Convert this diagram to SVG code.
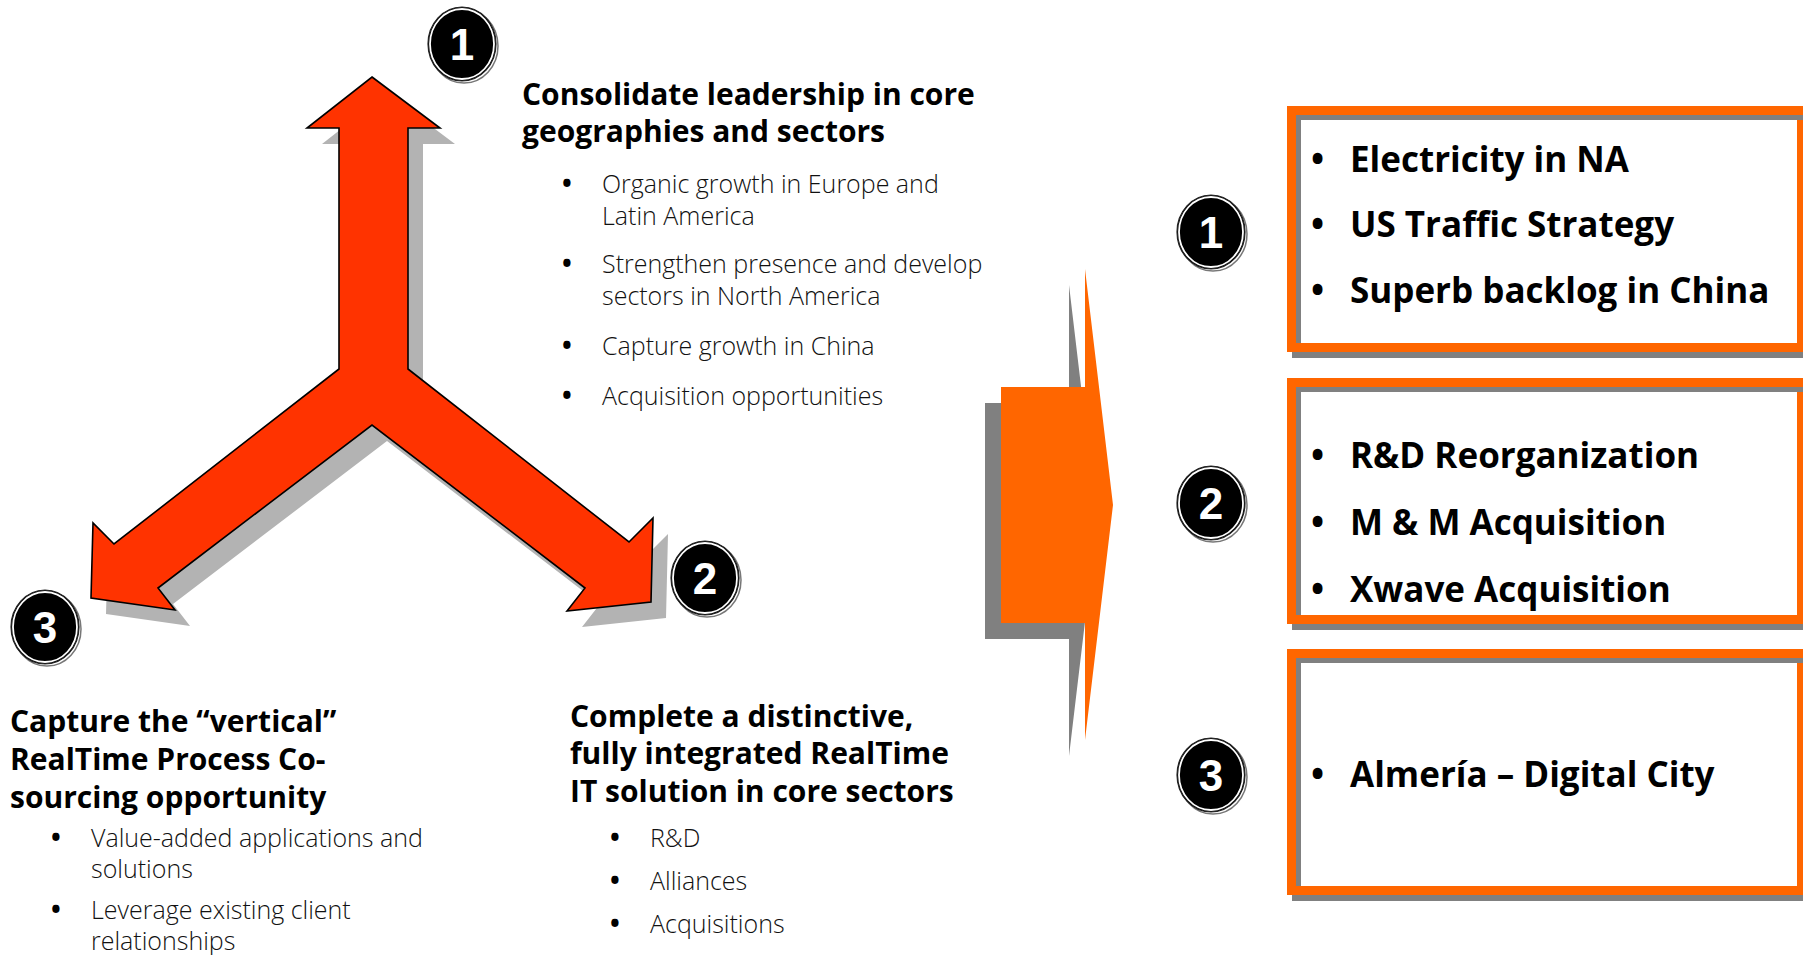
<svg xmlns="http://www.w3.org/2000/svg" width="1803" height="955" viewBox="0 0 1803 955">
<style>
.h{font-family:"Open Sans","Noto Sans",sans-serif;font-weight:700;font-size:30px;fill:#000}
.b{font-family:"Open Sans","Noto Sans",sans-serif;font-weight:300;font-size:25px;fill:#111}
.d{font-family:"Open Sans","Noto Sans",sans-serif;font-weight:700;font-size:26px;fill:#000}
.r{font-family:"Open Sans","Noto Sans",sans-serif;font-weight:700;font-size:35px;fill:#000}
.n{font-family:"Liberation Sans",Arial,sans-serif;font-weight:700;font-size:44px;fill:#fff;text-anchor:middle}
.ring{fill:#000;stroke:#222;stroke-width:1.2}
.hl{fill:none;stroke:#fff;stroke-width:1.8}
.sh{fill:none;stroke:#777;stroke-width:1.5}
.boxsh{fill:#808080}
.boxo{fill:#fff;stroke:#FF6600;stroke-width:9}
.boxi{fill:none;stroke:#808080;stroke-width:5}
</style>
<defs>
<g id="badge">
<ellipse class="sh" cx="2" cy="2" rx="34" ry="37"/>
<ellipse class="ring" cx="0" cy="0" rx="34" ry="37"/>
<ellipse class="hl" cx="0" cy="0" rx="32" ry="35"/>
</g>
</defs>
<rect width="1803" height="955" fill="#fff"/>
<g id="connectors">
<polygon id="y-arrow-shadow" fill="#B3B3B3" transform="translate(15,16)" points="372,77 440,128 408,128 408,369 629,542 653,518 651,602 567,611 585,588 372,425 158,588 175,610 91,598 93,523 114,544 339,369 339,128 307,128"/>
<polygon id="y-arrow" fill="#FF3300" stroke="#000" stroke-width="1.6" stroke-linejoin="miter" points="372,77 440,128 408,128 408,369 629,542 653,518 651,602 567,611 585,588 372,425 158,588 175,610 91,598 93,523 114,544 339,369 339,128 307,128"/>
<polygon id="big-arrow-shadow" fill="#808080" points="985,403 1069,403 1069,285 1097,521 1069,756 1069,639 985,639"/>
<polygon id="big-arrow" fill="#FF6600" points="1001,387 1085,387 1085,269 1113,505 1085,740 1085,623 1001,623"/>
</g>
<g id="badge-top-1"><use href="#badge" x="462" y="44"/><text class="n" x="462" y="60">1</text></g>
<g id="badge-left-2"><use href="#badge" x="705" y="578"/><text class="n" x="705" y="594">2</text></g>
<g id="badge-left-3"><use href="#badge" x="45" y="627"/><text class="n" x="45" y="643">3</text></g>
<g id="text-1">
<text class="h" x="522" y="105">Consolidate leadership in core</text>
<text class="h" x="522" y="142">geographies and sectors</text>
<text class="d" x="562" y="193">•</text><text class="b" x="602" y="193">Organic growth in Europe and</text>
<text class="b" x="602" y="225">Latin America</text>
<text class="d" x="562" y="273">•</text><text class="b" x="602" y="273">Strengthen presence and develop</text>
<text class="b" x="602" y="305">sectors in North America</text>
<text class="d" x="562" y="355">•</text><text class="b" x="602" y="355">Capture growth in China</text>
<text class="d" x="562" y="405">•</text><text class="b" x="602" y="405">Acquisition opportunities</text>
</g>
<g id="text-3">
<text class="h" x="10" y="732">Capture the “vertical”</text>
<text class="h" x="10" y="770">RealTime Process Co-</text>
<text class="h" x="10" y="808">sourcing opportunity</text>
<text class="d" x="51" y="847">•</text><text class="b" x="91" y="847">Value-added applications and</text>
<text class="b" x="91" y="878">solutions</text>
<text class="d" x="51" y="919">•</text><text class="b" x="91" y="919">Leverage existing client</text>
<text class="b" x="91" y="950">relationships</text>
</g>
<g id="text-2">
<text class="h" x="570" y="727">Complete a distinctive,</text>
<text class="h" x="570" y="764">fully integrated RealTime</text>
<text class="h" x="570" y="802">IT solution in core sectors</text>
<text class="d" x="610" y="847">•</text><text class="b" x="650" y="847">R&amp;D</text>
<text class="d" x="610" y="890">•</text><text class="b" x="650" y="890">Alliances</text>
<text class="d" x="610" y="933">•</text><text class="b" x="650" y="933">Acquisitions</text>
</g>
<g id="box-1">
<rect class="boxsh" x="1292" y="112" width="515" height="246"/>
<rect class="boxo" x="1291.5" y="110.5" width="510" height="237"/>
<path class="boxi" d="M1298.5 343V117.5H1803"/>
<text class="r" x="1311" y="172">•</text><text class="r" x="1350" y="172">Electricity in NA</text>
<text class="r" x="1311" y="237">•</text><text class="r" x="1350" y="237">US Traffic Strategy</text>
<text class="r" x="1311" y="303">•</text><text class="r" x="1350" y="303">Superb backlog in China</text>
</g>
<g id="box-2">
<rect class="boxsh" x="1292" y="384" width="515" height="246"/>
<rect class="boxo" x="1291.5" y="382.5" width="510" height="237"/>
<path class="boxi" d="M1298.5 615V389.5H1803"/>
<text class="r" x="1311" y="468">•</text><text class="r" x="1350" y="468">R&amp;D Reorganization</text>
<text class="r" x="1311" y="535">•</text><text class="r" x="1350" y="535">M &amp; M Acquisition</text>
<text class="r" x="1311" y="602">•</text><text class="r" x="1350" y="602">Xwave Acquisition</text>
</g>
<g id="box-3">
<rect class="boxsh" x="1292" y="655" width="515" height="246"/>
<rect class="boxo" x="1291.5" y="653.5" width="510" height="237"/>
<path class="boxi" d="M1298.5 886V660.5H1803"/>
<text class="r" x="1311" y="787">•</text><text class="r" x="1350" y="787">Almería – Digital City</text>
</g>
<g id="badge-right-1"><use href="#badge" x="1211" y="232"/><text class="n" x="1211" y="248">1</text></g>
<g id="badge-right-2"><use href="#badge" x="1211" y="503"/><text class="n" x="1211" y="519">2</text></g>
<g id="badge-right-3"><use href="#badge" x="1211" y="775"/><text class="n" x="1211" y="791">3</text></g>
</svg>
